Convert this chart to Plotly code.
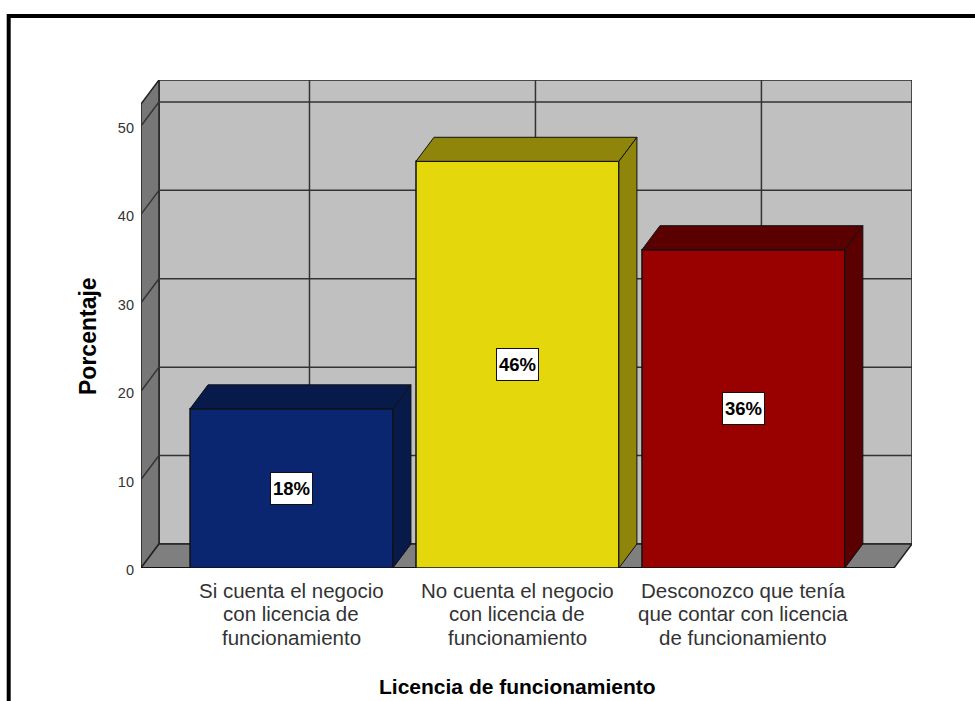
import plotly.graph_objects as go

# Values
category_lines = [["Si cuenta el negocio", "con licencia de", "funcionamiento"],
                  ["No cuenta el negocio", "con licencia de", "funcionamiento"],
                  ["Desconozco que tenía", "que contar con licencia", "de funcionamiento"]]
percent = [18, 46, 36]
labels = ["18%", "46%", "36%"]
y_ticks = [0, 10, 20, 30, 40, 50]

front_colors = ["#0A2671", "#E4D80D", "#990000"]
dark_colors = ["#081A4A", "#8F850B", "#5A0000"]

# Fake 3D depth, in axis units
DEPTH_X = 0.0796
DEPTH_Y = 2.72
BAR_WIDTH = 0.898
X_MIN = -0.666
X_MAX = 2.746
Y_MAX = 55.2
WALL_TOP = Y_MAX - DEPTH_Y
FRONT_RIGHT = X_MAX - DEPTH_X

FONT = "Liberation Sans"


def polygon(points, fill):
    path = "M " + " L ".join(f"{x} {y}" for x, y in points) + " Z"
    return dict(type="path", path=path, xref="x", yref="y", layer="below",
                fillcolor=fill, line=dict(color="#222222", width=1.5))


def grid_line(x0, y0, x1, y1):
    return dict(type="line", x0=x0, y0=y0, x1=x1, y1=y1, xref="x", yref="y",
                layer="below", line=dict(color="#333333", width=1.5))


shapes = [
    polygon([(X_MIN + DEPTH_X, DEPTH_Y), (X_MAX, DEPTH_Y), (X_MAX, Y_MAX), (X_MIN + DEPTH_X, Y_MAX)], "#C0C0C0"),
    polygon([(X_MIN, 0), (X_MIN + DEPTH_X, DEPTH_Y), (X_MIN + DEPTH_X, Y_MAX), (X_MIN, WALL_TOP)], "#777777"),
    polygon([(X_MIN, 0), (FRONT_RIGHT, 0), (X_MAX, DEPTH_Y), (X_MIN + DEPTH_X, DEPTH_Y)], "#7F7F7F"),
]

for tick in y_ticks[1:]:
    shapes.append(grid_line(X_MIN + DEPTH_X, tick + DEPTH_Y, X_MAX, tick + DEPTH_Y))
    shapes.append(grid_line(X_MIN, tick, X_MIN + DEPTH_X, tick + DEPTH_Y))

for i in range(len(category_lines)):
    shapes.append(grid_line(i + DEPTH_X, DEPTH_Y, i + DEPTH_X, Y_MAX))

shapes.append(dict(type="line", x0=X_MIN, y0=0, x1=FRONT_RIGHT, y1=0, xref="x", yref="y",
                   layer="below", line=dict(color="#111111", width=2)))

# Outer picture frame, runs off the right and bottom edges
shapes.append(dict(type="rect", xref="paper", yref="paper",
                   x0=(8.7 - 141) / 771, x1=1.2,
                   y0=-0.4, y1=(568 - 16) / 488,
                   line=dict(color="black", width=4)))

fig = go.Figure()

fig.add_trace(go.Bar(x=[0, 1, 2], y=percent, width=BAR_WIDTH,
                     marker=dict(color=front_colors, line=dict(color="#111111", width=1.5)),
                     showlegend=False, hoverinfo="skip"))

# Top and side faces of the bars
half = BAR_WIDTH / 2
for i, value in enumerate(percent):
    left = i - half
    right = i + half
    fig.add_trace(go.Scatter(
        x=[left, right, right + DEPTH_X, left + DEPTH_X, left],
        y=[value, value, value + DEPTH_Y, value + DEPTH_Y, value],
        mode="lines", fill="toself", fillcolor=dark_colors[i],
        line=dict(color="#111111", width=1), showlegend=False, hoverinfo="skip"))
    fig.add_trace(go.Scatter(
        x=[right, right + DEPTH_X, right + DEPTH_X, right, right],
        y=[0, DEPTH_Y, value + DEPTH_Y, value, 0],
        mode="lines", fill="toself", fillcolor=dark_colors[i],
        line=dict(color="#111111", width=1), showlegend=False, hoverinfo="skip"))

for i, value in enumerate(percent):
    fig.add_annotation(x=i, y=value / 2, text=f"<b>{labels[i]}</b>", showarrow=False,
                       width=41, height=31, bgcolor="white", bordercolor="#111111",
                       borderwidth=1, borderpad=0,
                       font=dict(family=FONT, size=18.5, color="black"))

# Category labels line by line, the reference has tighter leading than plotly's ticktext
for i, lines in enumerate(category_lines):
    for j, line in enumerate(lines):
        fig.add_annotation(x=i, y=0, yshift=-22 - 23.7 * j, text=line, showarrow=False,
                           font=dict(family=FONT, size=20.5, color="#333333"))

# Axis titles sit off-centre in the reference, so they are annotations too
fig.add_annotation(xref="paper", yref="paper", x=(88 - 141) / 771, y=(568 - 336) / 488,
                   xanchor="center", yanchor="middle",
                   text="<b>Porcentaje</b>", textangle=-90, showarrow=False,
                   font=dict(family=FONT, size=23, color="black"))
fig.add_annotation(x=1, y=0, yshift=-118, yanchor="middle", xanchor="center",
                   text="<b>Licencia de funcionamiento</b>", showarrow=False,
                   font=dict(family=FONT, size=21, color="black"))

fig.update_layout(
    width=975, height=701, autosize=False,
    margin=dict(l=141, r=63, t=80, b=133),
    paper_bgcolor="white", plot_bgcolor="rgba(0,0,0,0)",
    font=dict(family=FONT, color="#222222"),
    shapes=shapes,
    showlegend=False,
    xaxis=dict(range=[X_MIN, X_MAX], tickmode="array", tickvals=[0, 1, 2], showticklabels=False,
               showgrid=False, zeroline=False, showline=False, ticks=""),
    yaxis=dict(range=[0, Y_MAX], tickmode="array", tickvals=y_ticks,
               showgrid=False, zeroline=False, showline=False, ticks="",
               ticklabelstandoff=6, ticklabelshift=2,
               tickfont=dict(size=14.5, color="#333333")),
)

fig.write_html("out.html", config={"displayModeBar": False},
               post_script="document.body.style.margin='0';")
